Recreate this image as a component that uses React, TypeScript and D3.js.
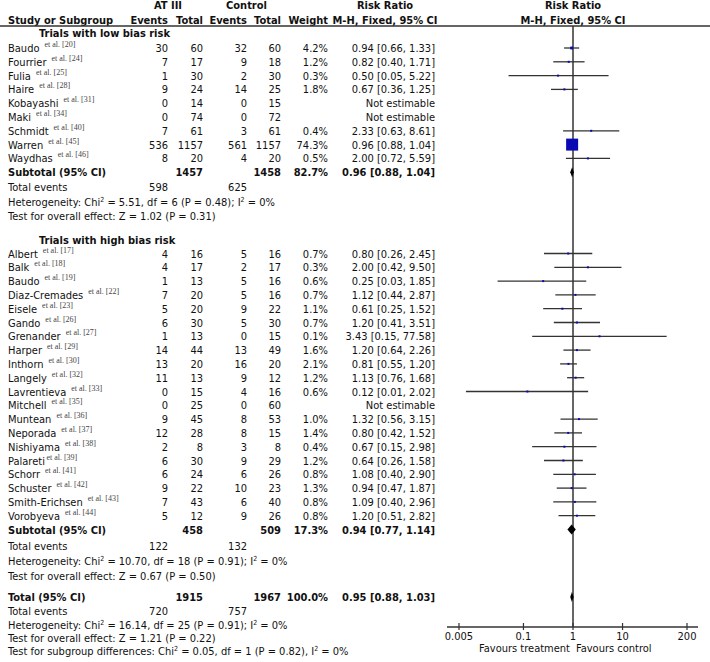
import React from "react";
import * as d3 from "d3";

// ---------- DATA ----------
const lowStudies = ["Baudo", "Fourrier", "Fulia", "Haire", "Kobayashi", "Maki", "Schmidt", "Warren", "Waydhas"];
const lowRefs = [20, 24, 25, 28, 31, 34, 40, 45, 46];
const lowEvT = [30, 7, 1, 9, 0, 0, 7, 536, 8];
const lowTotT = [60, 17, 30, 24, 14, 74, 61, 1157, 20];
const lowEvC = [32, 9, 2, 14, 0, 0, 3, 561, 4];
const lowTotC = [60, 18, 30, 25, 15, 72, 61, 1157, 20];
const lowWeight = [4.2, 1.2, 0.3, 1.8, null, null, 0.4, 74.3, 0.5];
const lowRR = [0.94, 0.82, 0.5, 0.67, null, null, 2.33, 0.96, 2.0];
const lowLo = [0.66, 0.4, 0.05, 0.36, null, null, 0.63, 0.88, 0.72];
const lowHi = [1.33, 1.71, 5.22, 1.25, null, null, 8.61, 1.04, 5.59];

const highStudies = ["Albert", "Balk", "Baudo", "Diaz-Cremades", "Eisele", "Gando", "Grenander", "Harper", "Inthorn", "Langely", "Lavrentieva", "Mitchell", "Muntean", "Neporada", "Nishiyama", "Palareti", "Schorr", "Schuster", "Smith-Erichsen", "Vorobyeva"];
const highRefs = [17, 18, 19, 22, 23, 26, 27, 29, 30, 32, 33, 35, 36, 37, 38, 39, 41, 42, 43, 44];
const highEvT = [4, 4, 1, 7, 5, 6, 1, 14, 13, 11, 0, 0, 9, 12, 2, 6, 6, 9, 7, 5];
const highTotT = [16, 17, 13, 20, 20, 30, 13, 44, 20, 13, 15, 25, 45, 28, 8, 30, 24, 22, 43, 12];
const highEvC = [5, 2, 5, 5, 9, 5, 0, 13, 16, 9, 4, 0, 8, 8, 3, 9, 6, 10, 6, 9];
const highTotC = [16, 17, 16, 16, 22, 30, 15, 49, 20, 12, 16, 60, 53, 15, 8, 29, 26, 23, 40, 26];
const highWeight = [0.7, 0.3, 0.6, 0.7, 1.1, 0.7, 0.1, 1.6, 2.1, 1.2, 0.6, null, 1.0, 1.4, 0.4, 1.2, 0.8, 1.3, 0.8, 0.8];
const highRR = [0.8, 2.0, 0.25, 1.12, 0.61, 1.2, 3.43, 1.2, 0.81, 1.13, 0.12, null, 1.32, 0.8, 0.67, 0.64, 1.08, 0.94, 1.09, 1.2];
const highLo = [0.26, 0.42, 0.03, 0.44, 0.25, 0.41, 0.15, 0.64, 0.55, 0.76, 0.0069, null, 0.56, 0.42, 0.15, 0.26, 0.4, 0.47, 0.4, 0.51];
const highHi = [2.45, 9.5, 1.85, 2.87, 1.52, 3.51, 77.58, 2.26, 1.2, 1.68, 2.02, null, 3.15, 1.52, 2.98, 1.58, 2.9, 1.87, 2.96, 2.82];

const groupTitles = ["Trials with low bias risk", "Trials with high bias risk"];
const subTotT = [1457, 458];
const subTotC = [1458, 509];
const subWeight = ["82.7%", "17.3%"];
const subRR = [0.96, 0.94];
const subLo = [0.88, 0.77];
const subHi = [1.04, 1.14];
const subEvT = [598, 122];
const subEvC = [625, 132];
const subHet = [
  { chi: "5.51", df: "6", p: "0.48", i2: "0%" },
  { chi: "10.70", df: "18", p: "0.91", i2: "0%" },
];
const subTest = [
  { z: "1.02", p: "0.31" },
  { z: "0.67", p: "0.50" },
];

const totalTotT = 1915;
const totalTotC = 1967;
const totalWeight = "100.0%";
const totalRR = 0.95;
const totalLo = 0.88;
const totalHi = 1.03;
const totalEvT = 720;
const totalEvC = 757;
const totalHet = { chi: "16.14", df: "25", p: "0.91", i2: "0%" };
const totalTest = { z: "1.21", p: "0.22" };
const subgroupDiff = { chi: "0.05", df: "1", p: "0.82", i2: "0%" };

const axisTicks = [0.005, 0.1, 1, 10, 200];
const axisTickLabels = ["0.005", "0.1", "1", "10", "200"];

// ---------- STYLE ----------
const FONT = "'DejaVu Sans Condensed', 'DejaVu Sans'";
const FS = 11;
const TXT = "#111";
const LINE = "#333";
const SQ = "#0a0ab4";

const W = 710;
const H = 662;

const colX = { name: 8, title: 39, evT: 168, totT: 203, evC: 247, totC: 281, weight: 328, ci: 435 };
const ciHeaderX = 385;

const fmt2 = (v: number) => v.toFixed(2);
const ciText = (rr: number, lo: number, hi: number) => `${fmt2(rr)} [${fmt2(lo)}, ${fmt2(hi)}]`;

export default function App() {
  const x = d3.scaleLog().domain([0.005, 200]).range([459, 687]);
  const step = 13.8;
  const base = (c: number) => c + 4;

  // row centers
  const low0 = 48;
  const lowY = lowStudies.map((_, i) => low0 + i * step);
  const sub1Y = low0 + lowStudies.length * step;
  const high0 = 253.5;
  const highY = highStudies.map((_, i) => high0 + i * step);
  const sub2Y = high0 + highStudies.length * step;
  const subY = [sub1Y, sub2Y];
  const evY = [187, 546];
  const hetY = [201.5, 561];
  const testY = [215.5, 575.5];
  const titleY = [33, 240];
  const totalY = 597;
  const totalEvY = 611;
  const totalHetY = 624.5;
  const totalTestY = 638;
  const diffY = 651;
  const axisY = 627;
  const headerLineY = 26;

  const sqSize = (w: number) => Math.max(2, 12 * Math.sqrt(w / 74.3));

  const T = (props: any) => (
    <text fontFamily={FONT} fontSize={FS} fill={TXT} {...props} />
  );

  const studyRow = (
    key: string,
    y: number,
    name: string,
    ref: number,
    evT: number,
    totT: number,
    evC: number,
    totC: number,
    w: number | null,
    rr: number | null,
    lo: number | null,
    hi: number | null
  ) => (
    <g key={key}>
      <T x={colX.name} y={base(y)}>
        {name}
        <tspan fontFamily="Liberation Serif" fontSize={8} fill="#444" dx={name === "Palareti" ? 1.5 : 5} dy={-5}>
          {`et al. [${ref}]`}
        </tspan>
      </T>
      <T x={colX.evT} y={base(y)} textAnchor="end">{evT}</T>
      <T x={colX.totT} y={base(y)} textAnchor="end">{totT}</T>
      <T x={colX.evC} y={base(y)} textAnchor="end">{evC}</T>
      <T x={colX.totC} y={base(y)} textAnchor="end">{totC}</T>
      {w != null && <T x={colX.weight} y={base(y)} textAnchor="end">{w.toFixed(1)}%</T>}
      <T x={colX.ci} y={base(y)} textAnchor="end">
        {rr != null && lo != null && hi != null ? ciText(rr, lo, hi) : "Not estimable"}
      </T>
      {rr != null && lo != null && hi != null && w != null && (
        <g>
          <line x1={x(lo)} x2={x(hi)} y1={y} y2={y} stroke={LINE} strokeWidth={1.3} />
          <rect
            x={x(rr) - sqSize(w) / 2}
            y={y - sqSize(w) / 2}
            width={sqSize(w)}
            height={sqSize(w)}
            fill={SQ}
          />
        </g>
      )}
    </g>
  );

  const diamond = (y: number, rr: number, lo: number, hi: number) => {
    const p = d3.path();
    p.moveTo(x(lo), y);
    p.lineTo(x(rr), y - 5);
    p.lineTo(x(hi), y);
    p.lineTo(x(rr), y + 5);
    p.closePath();
    return <path d={p.toString()} fill="#000" />;
  };

  const hetText = (h: { chi: string; df: string; p: string; i2: string }, sep: string) => (
    <>
      {"Heterogeneity: Chi"}
      <tspan fontSize={7} dy={-4}>2</tspan>
      <tspan dy={4}>{` = ${h.chi}, df = ${h.df} (P = ${h.p})${sep} I`}</tspan>
      <tspan fontSize={7} dy={-4}>2</tspan>
      <tspan dy={4}>{` = ${h.i2}`}</tspan>
    </>
  );

  return (
    <svg width={W} height={H} style={{ position: "absolute", left: 0, top: 0, background: "#fff" }}>
      {/* Header */}
      <g fontWeight="bold">
        <T x={(133 + colX.totT) / 2} y={9} textAnchor="middle" fontWeight="bold">AT III</T>
        <T x={(212 + colX.totC) / 2} y={9} textAnchor="middle" fontWeight="bold">Control</T>
        <T x={ciHeaderX} y={9} textAnchor="middle" fontWeight="bold">Risk Ratio</T>
        <T x={x(1)} y={9} textAnchor="middle" fontWeight="bold">Risk Ratio</T>
        <T x={colX.name} y={23.5} fontWeight="bold">Study or Subgroup</T>
        <T x={colX.evT} y={23.5} textAnchor="end" fontWeight="bold">Events</T>
        <T x={colX.totT} y={23.5} textAnchor="end" fontWeight="bold">Total</T>
        <T x={colX.evC} y={23.5} textAnchor="end" fontWeight="bold">Events</T>
        <T x={colX.totC} y={23.5} textAnchor="end" fontWeight="bold">Total</T>
        <T x={colX.weight} y={23.5} textAnchor="end" fontWeight="bold">Weight</T>
        <T x={ciHeaderX} y={23.5} textAnchor="middle" fontWeight="bold">M-H, Fixed, 95% CI</T>
        <T x={x(1)} y={23.5} textAnchor="middle" fontWeight="bold">M-H, Fixed, 95% CI</T>
      </g>
      <line x1={0} x2={W} y1={headerLineY} y2={headerLineY} stroke={LINE} strokeWidth={1.5} />

      {/* vertical line of no effect */}
      <line x1={x(1)} x2={x(1)} y1={headerLineY} y2={axisY} stroke={LINE} strokeWidth={1.5} />

      {/* Group titles */}
      {groupTitles.map((t, g) => (
        <T key={t} x={colX.title} y={base(titleY[g])} fontWeight="bold">{t}</T>
      ))}

      {lowStudies.map((s, i) =>
        studyRow("l" + i, lowY[i], s, lowRefs[i], lowEvT[i], lowTotT[i], lowEvC[i], lowTotC[i], lowWeight[i], lowRR[i], lowLo[i], lowHi[i])
      )}
      {highStudies.map((s, i) =>
        studyRow("h" + i, highY[i], s, highRefs[i], highEvT[i], highTotT[i], highEvC[i], highTotC[i], highWeight[i], highRR[i], highLo[i], highHi[i])
      )}

      {/* Subtotals */}
      {[0, 1].map((g) => (
        <g key={"sub" + g}>
          <T x={colX.name} y={base(subY[g])} fontWeight="bold">Subtotal (95% CI)</T>
          <T x={colX.totT} y={base(subY[g])} textAnchor="end" fontWeight="bold">{subTotT[g]}</T>
          <T x={colX.totC} y={base(subY[g])} textAnchor="end" fontWeight="bold">{subTotC[g]}</T>
          <T x={colX.weight} y={base(subY[g])} textAnchor="end" fontWeight="bold">{subWeight[g]}</T>
          <T x={colX.ci} y={base(subY[g])} textAnchor="end" fontWeight="bold">{ciText(subRR[g], subLo[g], subHi[g])}</T>
          {diamond(subY[g], subRR[g], subLo[g], subHi[g])}
          <T x={colX.name} y={base(evY[g])}>Total events</T>
          <T x={colX.evT} y={base(evY[g])} textAnchor="end">{subEvT[g]}</T>
          <T x={colX.evC} y={base(evY[g])} textAnchor="end">{subEvC[g]}</T>
          <T x={colX.name} y={base(hetY[g])}>{hetText(subHet[g], ";")}</T>
          <T x={colX.name} y={base(testY[g])}>{`Test for overall effect: Z = ${subTest[g].z} (P = ${subTest[g].p})`}</T>
        </g>
      ))}

      {/* Total */}
      <T x={colX.name} y={base(totalY)} fontWeight="bold">Total (95% CI)</T>
      <T x={colX.totT} y={base(totalY)} textAnchor="end" fontWeight="bold">{totalTotT}</T>
      <T x={colX.totC} y={base(totalY)} textAnchor="end" fontWeight="bold">{totalTotC}</T>
      <T x={colX.weight} y={base(totalY)} textAnchor="end" fontWeight="bold">{totalWeight}</T>
      <T x={colX.ci} y={base(totalY)} textAnchor="end" fontWeight="bold">{ciText(totalRR, totalLo, totalHi)}</T>
      {diamond(totalY, totalRR, totalLo, totalHi)}
      <T x={colX.name} y={base(totalEvY)}>Total events</T>
      <T x={colX.evT} y={base(totalEvY)} textAnchor="end">{totalEvT}</T>
      <T x={colX.evC} y={base(totalEvY)} textAnchor="end">{totalEvC}</T>
      <T x={colX.name} y={base(totalHetY)}>{hetText(totalHet, ";")}</T>
      <T x={colX.name} y={base(totalTestY)}>{`Test for overall effect: Z = ${totalTest.z} (P = ${totalTest.p})`}</T>
      <T x={colX.name} y={base(diffY)}>
        {`Test for subgroup differences: Chi`}
        <tspan fontSize={7} dy={-4}>2</tspan>
        <tspan dy={4}>{` = ${subgroupDiff.chi}, df = ${subgroupDiff.df} (P = ${subgroupDiff.p}), I`}</tspan>
        <tspan fontSize={7} dy={-4}>2</tspan>
        <tspan dy={4}>{` = ${subgroupDiff.i2}`}</tspan>
      </T>

      {/* Axis */}
      <line x1={x(0.005) - 12} x2={x(200) + 11} y1={axisY} y2={axisY} stroke={LINE} strokeWidth={1.5} />
      {axisTicks.map((t, i) => (
        <g key={"t" + i}>
          <line x1={x(t)} x2={x(t)} y1={axisY - 4} y2={axisY + 3} stroke={LINE} strokeWidth={1.2} />
          <T x={x(t)} y={axisY + 13} textAnchor="middle">{axisTickLabels[i]}</T>
        </g>
      ))}
      <T x={x(1) - 3} y={axisY + 24.5} textAnchor="end">Favours treatment</T>
      <T x={x(1) + 3} y={axisY + 24.5} textAnchor="start">Favours control</T>
    </svg>
  );
}
